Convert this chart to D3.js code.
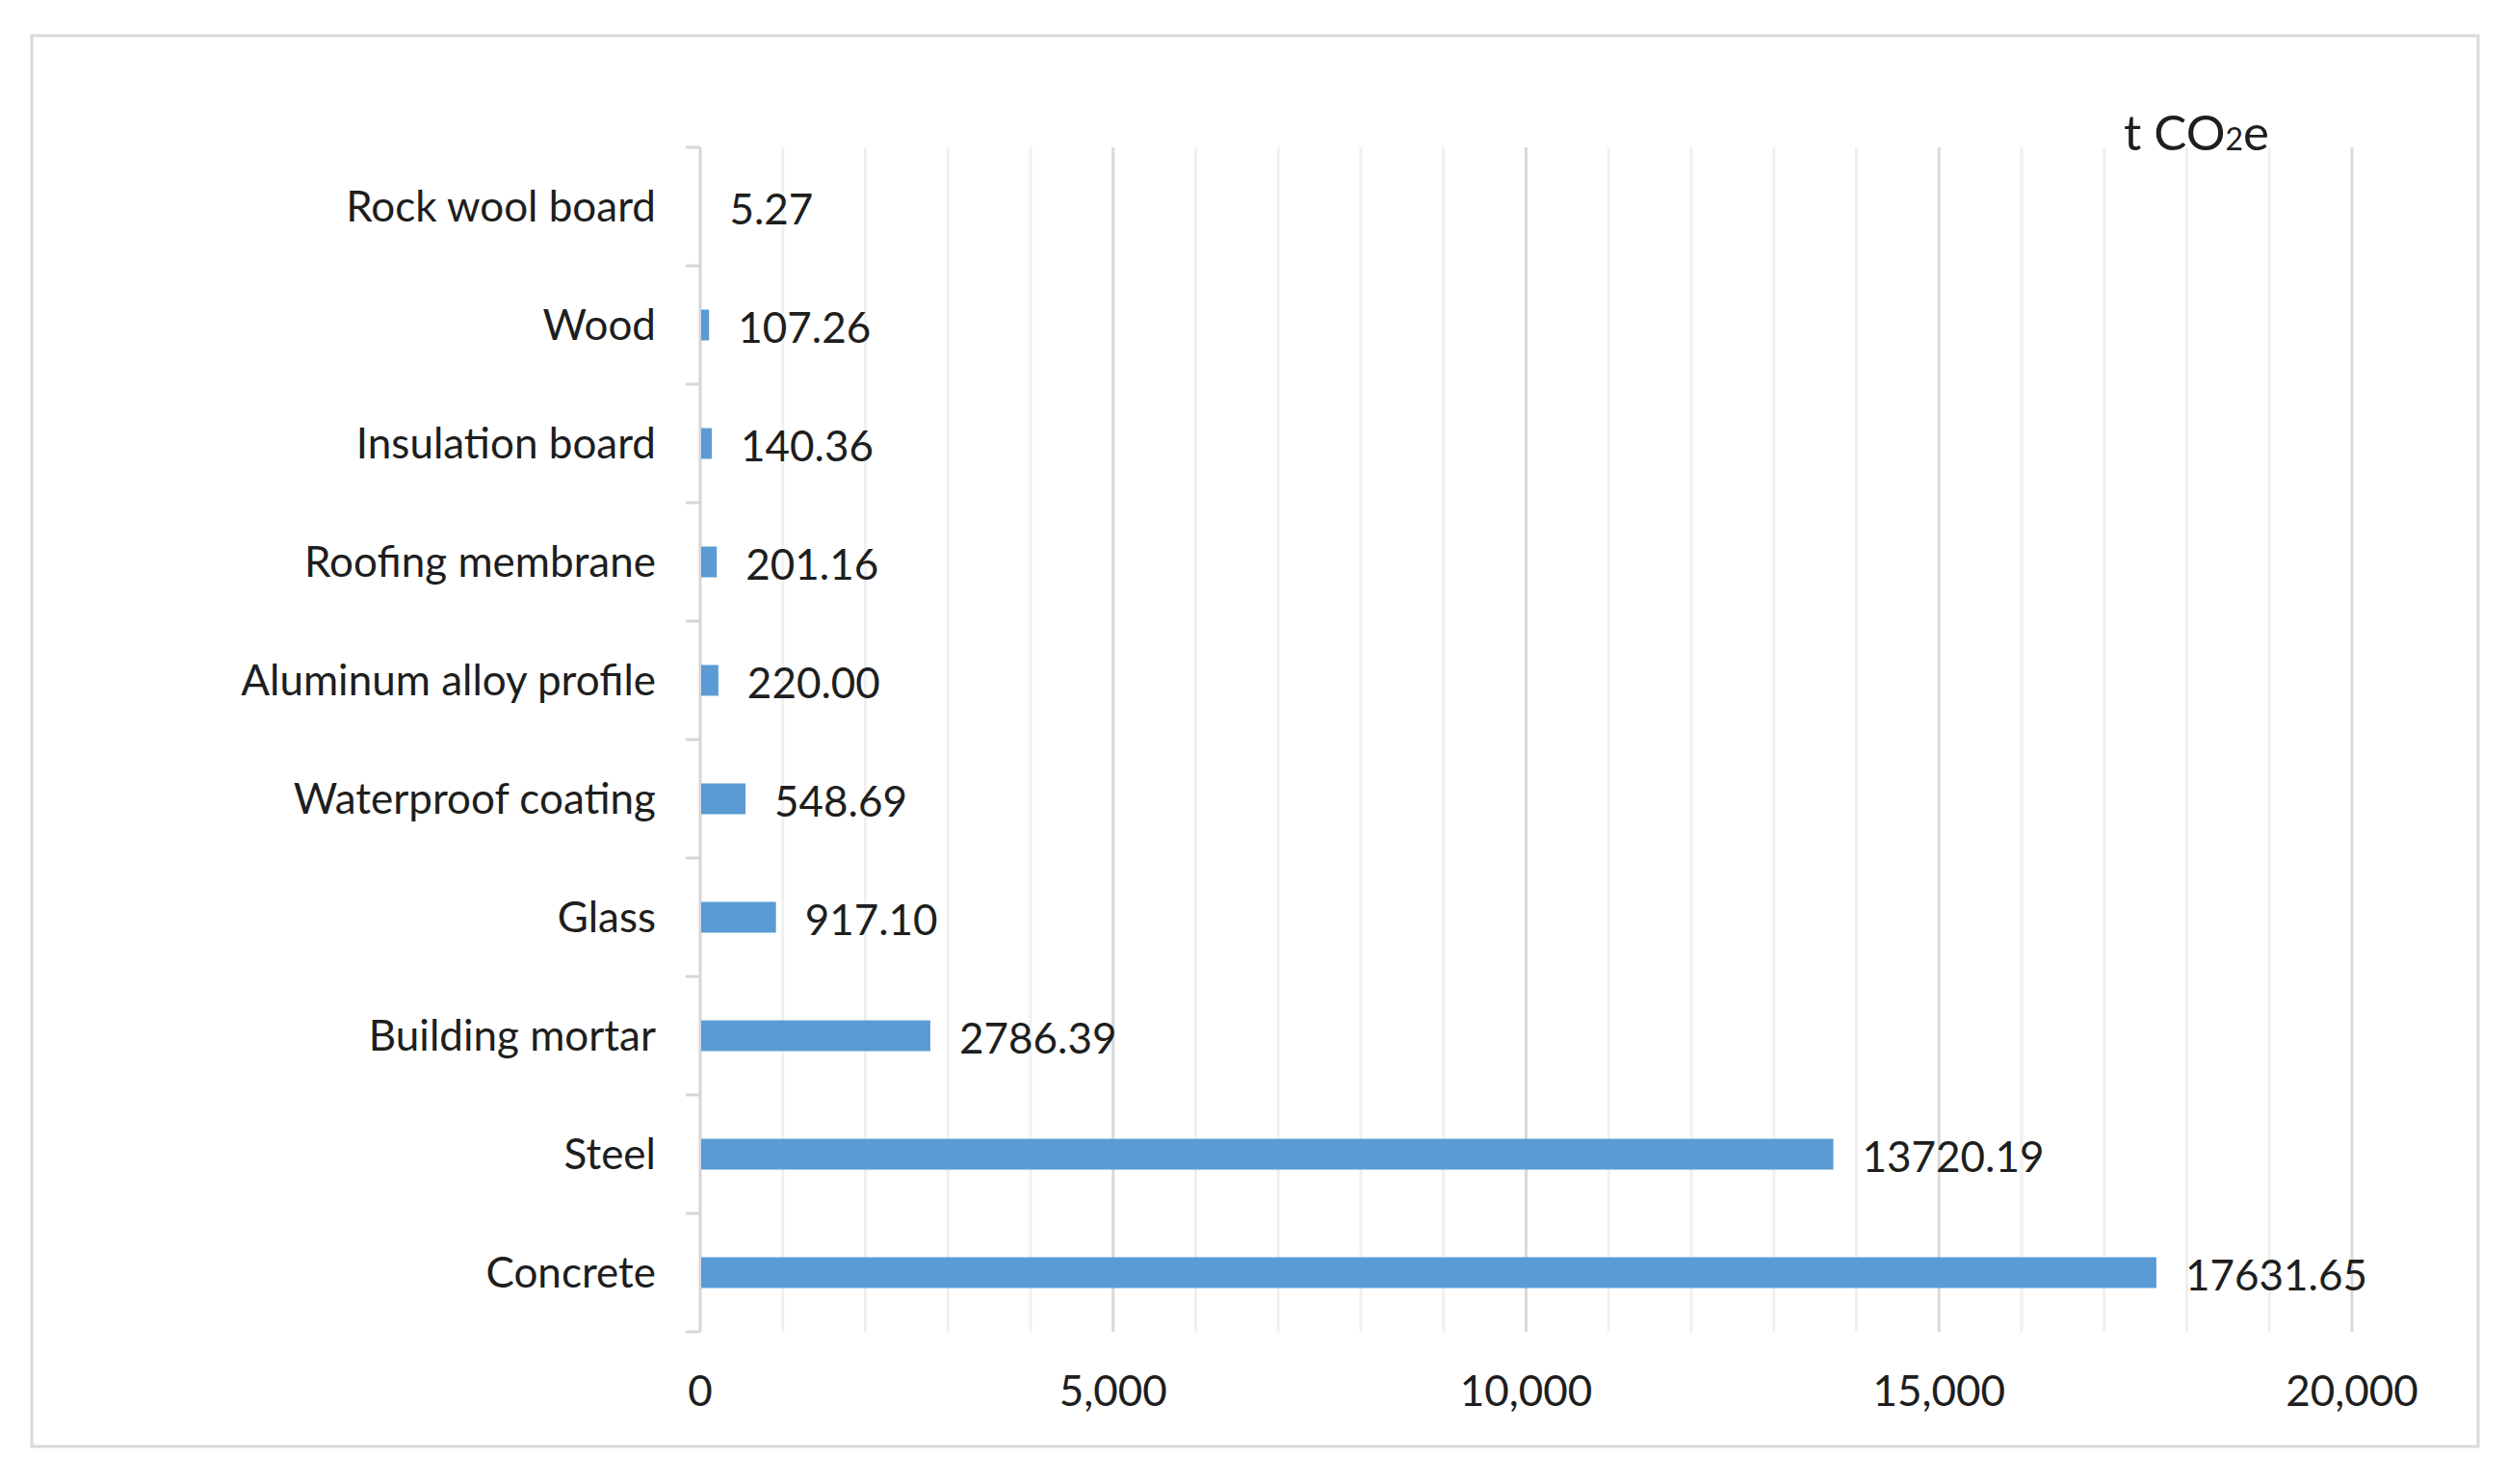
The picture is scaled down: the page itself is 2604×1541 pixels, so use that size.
<!DOCTYPE html>
<html>
<head>
<meta charset="utf-8">
<script src="https://cdn.jsdelivr.net/npm/d3@7"></script>
<style>
  body { margin: 0; background: #fff; }
  text { font-family: Lato, "Open Sans", sans-serif; fill: #1e1e1e; }
</style>
</head>
<body>
<div id="chart"></div>
<script>
const materials = ["Rock wool board", "Wood", "Insulation board", "Roofing membrane",
                   "Aluminum alloy profile", "Waterproof coating", "Glass",
                   "Building mortar", "Steel", "Concrete"];
const emissions = [5.27, 107.26, 140.36, 201.16, 220.00, 548.69, 917.10, 2786.39, 13720.19, 17631.65];
const xTicks = [0, 5000, 10000, 15000, 20000];
const unitLabel = "t CO2e";

const W = 2604, H = 1541;
const margin = {top: 153, right: 162, bottom: 158, left: 727},
      width = W - margin.left - margin.right,
      height = H - margin.top - margin.bottom;

const root = d3.select("#chart").append("svg")
  .attr("width", W).attr("height", H);

// outer frame
root.append("rect")
  .attr("x", 33).attr("y", 37).attr("width", 2540).attr("height", 1465)
  .attr("fill", "#fff").attr("stroke", "#d9d9d9").attr("stroke-width", 3);

const svg = root.append("g").attr("transform", `translate(${margin.left},${margin.top})`);

const x = d3.scaleLinear().domain([0, 20000]).range([0, width]);
const y = d3.scaleBand().domain(materials).range([0, height]).padding(0);

// gridlines: minor every 1000, major every 5000
svg.append("g").selectAll("line")
  .data(d3.range(1000, 20001, 1000))
  .enter().append("line")
  .attr("x1", d => x(d)).attr("x2", d => x(d))
  .attr("y1", 0).attr("y2", height)
  .attr("stroke", d => d % 5000 === 0 ? "#d9d9d9" : "#f0f0f0")
  .attr("stroke-width", 3);

// category axis line and ticks at band boundaries
svg.append("line").attr("x1", 0).attr("x2", 0).attr("y1", 0).attr("y2", height)
  .attr("stroke", "#d6d6d6").attr("stroke-width", 3);
svg.append("g").selectAll("line")
  .data(d3.range(materials.length + 1))
  .enter().append("line")
  .attr("x1", -15).attr("x2", 0)
  .attr("y1", i => i * y.step()).attr("y2", i => i * y.step())
  .attr("stroke", "#d6d6d6").attr("stroke-width", 3);

// category labels
svg.append("g").selectAll("text")
  .data(materials)
  .enter().append("text")
  .attr("x", -46)
  .attr("y", d => y(d) + y.bandwidth() / 2)
  .attr("dy", "0.35em")
  .attr("text-anchor", "end")
  .style("font-size", "44px")
  .text(d => d);

// bars
const barH = y.bandwidth() * 0.26;
svg.append("g").selectAll("rect")
  .data(materials)
  .enter().append("rect")
  .attr("x", 1)
  .attr("y", d => y(d) + (y.bandwidth() - barH) / 2)
  .attr("width", (d, i) => Math.max(0, x(emissions[i]) - 1))
  .attr("height", barH)
  .attr("fill", "#5b9bd5");

// value labels
svg.append("g").selectAll("text")
  .data(materials)
  .enter().append("text")
  .attr("x", (d, i) => x(emissions[i]) + 30)
  .attr("y", d => y(d) + y.bandwidth() / 2)
  .attr("dy", "0.42em")
  .style("font-size", "44px")
  .text((d, i) => emissions[i].toFixed(2));

// value axis tick labels
svg.append("g").selectAll("text")
  .data(xTicks)
  .enter().append("text")
  .attr("x", d => x(d))
  .attr("y", height + 77)
  .attr("text-anchor", "middle")
  .style("font-size", "44px")
  .text(d => d3.format(",")(d));

// unit label
const unit = root.append("text")
  .attr("x", 2205).attr("y", 156)
  .style("font-size", "51px");
unit.append("tspan").text(unitLabel.slice(0, 4));
unit.append("tspan").style("font-size", "32px").text(unitLabel.slice(4, 5));
unit.append("tspan").text(unitLabel.slice(5));
</script>
</body>
</html>
